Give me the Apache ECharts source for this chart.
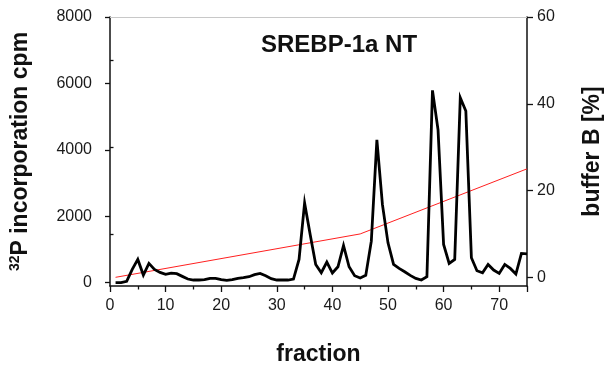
<!DOCTYPE html>
<html>
<head>
<meta charset="utf-8">
<script src="https://cdn.jsdelivr.net/npm/echarts@6/dist/echarts.min.js"></script>
<style>
  html, body { margin: 0; padding: 0; background: #fff; }
  #chart { width: 612px; height: 371px; }
</style>
</head>
<body>
<div id="chart"></div>
<script>
// Fraction numbers collected from the column
const fractions = [
   1,  2,  3,  4,  5,  6,  7,  8,  9, 10, 11, 12, 13, 14, 15,
  16, 17, 18, 19, 20, 21, 22, 23, 24, 25, 26, 27, 28, 29, 30,
  31, 32, 33, 34, 35, 36, 37, 38, 39, 40, 41, 42, 43, 44, 45,
  46, 47, 48, 49, 50, 51, 52, 53, 54, 55, 56, 57, 58, 59, 60,
  61, 62, 63, 64, 65, 66, 67, 68, 69, 70, 71, 72, 73, 74, 75
];

// 32P incorporation (cpm) per fraction
const cpm = [
     0,    0,   40,  400,  700,  230,  580,  400,  310,  250,  290,  270,  190,  110,   80,
    80,   90,  130,  130,   90,   70,   90,  130,  150,  180,  240,  280,  210,  120,   80,
    80,   80,  110,  700, 2400, 1450,  550,  300,  620,  290,  480, 1120,  480,  210,  140,
   220, 1250, 4300, 2350, 1200,  550,  430,  330,  220,  130,   80,  180, 5790, 4600, 1150,
   580,  700, 5570, 5170,  750,  360,  300,  550,  380,  280,  550,  430,  260,  880,  870
];

// Gradient program: fraction and % buffer B at its breakpoints
const gradientFractions = [1, 45, 75];
const gradientBuffer = [0, 10, 25];

// Tick positions
const cpmTicks = [0, 2000, 4000, 6000, 8000];
const bufferMajorTicks = [0, 20, 40, 60];
const bufferMinorTicks = [10, 30, 50];

const cpmPoints = fractions.map((f, i) => [f, cpm[i]]);
const gradientPoints = gradientFractions.map((f, i) => [f, gradientBuffer[i]]);

const FONT = '"Liberation Sans", Arial, sans-serif';
const plain = v => String(v);
const labelStyle = { color: '#1a1a1a', fontSize: 16, fontFamily: FONT, formatter: plain };
const nameStyle = { color: '#111', fontSize: 23, fontWeight: 'bold', fontFamily: FONT };

const chart = echarts.init(document.getElementById('chart'), null, { renderer: 'canvas' });

chart.setOption({
  animation: false,
  backgroundColor: '#fff',
  title: {
    text: 'SREBP-1a NT',
    left: 256,
    top: 28,
    textStyle: { color: '#111', fontSize: 24, fontWeight: 'bold', fontFamily: FONT }
  },
  grid: { left: 110, right: 78, top: 17, bottom: 82, containLabel: false },
  xAxis: [
    {
      type: 'value',
      min: 0,
      max: 75,
      interval: 10,
      position: 'bottom',
      name: 'fraction',
      nameLocation: 'middle',
      nameGap: 57,
      nameTextStyle: nameStyle,
      axisLine: { show: true, onZero: false, lineStyle: { color: '#111', width: 1.5 } },
      axisTick: { show: true, inside: false, length: 6, lineStyle: { color: '#111', width: 1.3 } },
      minorTick: { show: true, splitNumber: 2, length: 3.5, lineStyle: { color: '#111', width: 1.3 } },
      axisLabel: Object.assign({ margin: 12, showMaxLabel: false }, labelStyle),
      splitLine: { show: false }
    },
    {
      // thin frame line along the top of the plot
      type: 'value',
      min: 0,
      max: 75,
      position: 'top',
      axisLine: { show: true, onZero: false, lineStyle: { color: '#c8c8c8', width: 1 } },
      axisTick: { show: false },
      axisLabel: { show: false },
      splitLine: { show: false }
    }
  ],
  yAxis: [
    {
      type: 'value',
      min: -100,
      max: 8000,
      position: 'left',
      name: '{sup|32}{main|P incorporation cpm}',
      nameLocation: 'middle',
      nameRotate: 90,
      nameGap: 76,
      nameTextStyle: {
        rich: {
          sup: { fontSize: 14, fontWeight: 'bold', color: '#111', fontFamily: FONT, verticalAlign: 'top', lineHeight: 14 },
          main: { fontSize: 23, fontWeight: 'bold', color: '#111', fontFamily: FONT, lineHeight: 26 }
        }
      },
      axisLine: { show: true, onZero: false, lineStyle: { color: '#111', width: 1.5 } },
      axisTick: { show: true, length: 5, customValues: cpmTicks, lineStyle: { color: '#111', width: 1.3 } },
      axisLabel: Object.assign({ margin: 18, customValues: cpmTicks }, labelStyle),
      splitLine: { show: false }
    },
    {
      type: 'value',
      min: -2,
      max: 60,
      position: 'right',
      name: 'buffer B [%]',
      nameLocation: 'middle',
      nameRotate: 90,
      nameGap: 54,
      nameTextStyle: nameStyle,
      axisLine: { show: true, onZero: false, lineStyle: { color: '#111', width: 1.5 } },
      axisTick: { show: true, length: 6, customValues: bufferMajorTicks, lineStyle: { color: '#111', width: 1.3 } },
      axisLabel: Object.assign({ margin: 10, customValues: bufferMajorTicks }, labelStyle),
      splitLine: { show: false }
    },
    {
      // shorter in-between ticks on the buffer B scale
      type: 'value',
      min: -2,
      max: 60,
      position: 'right',
      axisLine: { show: false },
      axisTick: { show: true, length: 3.5, customValues: bufferMinorTicks, lineStyle: { color: '#111', width: 1.3 } },
      axisLabel: { show: false, customValues: bufferMinorTicks },
      splitLine: { show: false }
    }
  ],
  series: [
    {
      name: 'buffer B',
      type: 'line',
      xAxisIndex: 0,
      yAxisIndex: 1,
      data: gradientPoints,
      symbol: 'none',
      lineStyle: { color: '#ff2020', width: 1 },
      z: 2
    },
    {
      name: '32P cpm',
      type: 'line',
      xAxisIndex: 0,
      yAxisIndex: 0,
      data: cpmPoints,
      symbol: 'none',
      lineStyle: { color: '#000', width: 2.8, join: 'miter' },
      z: 3
    }
  ]
});
</script>
</body>
</html>
